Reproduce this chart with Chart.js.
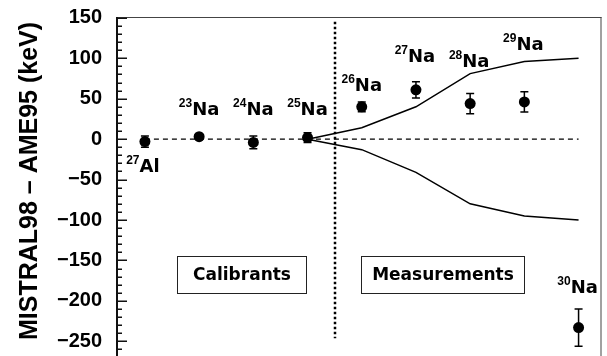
<!DOCTYPE html>
<html>
<head>
<meta charset="utf-8">
<script src="https://cdn.jsdelivr.net/npm/chart.js@4.4.0/dist/chart.umd.min.js"></script>
<style>
  html, body { margin: 0; padding: 0; background: #fff; overflow: hidden; }
  canvas { display: block; }
</style>
</head>
<body>
<canvas id="massChart" width="607" height="370"></canvas>
<script>
// Mass differences MISTRAL98 - AME95 (keV)
const massNumbers = ['27', '23', '24', '25', '26', '27', '28', '29', '30'];
const elements = ['Al', 'Na', 'Na', 'Na', 'Na', 'Na', 'Na', 'Na', 'Na'];
const xIndex = [0, 1, 2, 3, 4, 5, 6, 7, 8];
const deltas = [-3, 3, -4, 2, 40, 61, 44, 46, -233];
const errors = [7, 2, 8, 6, 6, 10, 12.5, 12.5, 23];

// AME95 uncertainty band
const bandX = [3, 4, 5, 6, 7, 8];
const bandUpper = [0, 14, 40, 81, 96, 100];
const bandLower = [0, -13, -41, -80, -95, -100];

const yTicks = [150, 100, 50, 0, -50, -100, -150, -200, -250];
const yMinor = [];
for (let v = -270; v <= 150; v += 10) if (v % 50 !== 0) yMinor.push(v);

// label placement, pixel offsets from each point
const labelDx = [-2, 0, 0, 0, 0, -1, -1, -1, -1];
const labelDy = [30, -22, -27, -23, -16, -28, -37, -52, -35];

const boxTexts = ['Calibrants', 'Measurements'];
const boxX = [[0.59, 2.98], [3.99, 7.0]];
const boxY = [-145, -190];
const dividerX = 3.5;

const decor = {
    id: 'decor',
    beforeDatasetsDraw(chart) {
        const { ctx, scales: { x, y } } = chart;
        ctx.save();
        // zero line
        ctx.strokeStyle = '#000';
        ctx.lineWidth = 1.3;
        ctx.setLineDash([5, 4]);
        ctx.beginPath();
        const y0 = y.getPixelForValue(0);
        ctx.moveTo(x.getPixelForValue(xIndex[0]), y0);
        ctx.lineTo(x.getPixelForValue(xIndex[xIndex.length - 1]), y0);
        ctx.stroke();

        // calibrants / measurements divider
        ctx.lineWidth = 2.5;
        ctx.setLineDash([2.5, 2.5]);
        ctx.beginPath();
        const dx = Math.round(x.getPixelForValue(dividerX));
        ctx.moveTo(dx, y.getPixelForValue(145));
        ctx.lineTo(dx, y.getPixelForValue(-246));
        ctx.stroke();
        ctx.setLineDash([]);

        // boxes
        ctx.lineWidth = 1;
        ctx.strokeStyle = '#222';
        ctx.fillStyle = '#000';
        ctx.font = 'bold 17px "DejaVu Sans"';
        ctx.textAlign = 'center';
        ctx.textBaseline = 'middle';
        boxTexts.forEach((t, i) => {
            const x0 = Math.round(x.getPixelForValue(boxX[i][0])) + 0.5;
            const x1 = Math.round(x.getPixelForValue(boxX[i][1])) + 0.5;
            const y0b = Math.round(y.getPixelForValue(boxY[0])) + 0.5;
            const y1b = Math.round(y.getPixelForValue(boxY[1])) + 0.5;
            ctx.strokeRect(x0, y0b, x1 - x0, y1b - y0b);
            ctx.fillText(t, (x0 + x1) / 2, (y0b + y1b) / 2 + 1);
        });
        ctx.restore();
    },
    afterDatasetsDraw(chart) {
        const { ctx, scales: { x, y } } = chart;
        ctx.save();
        // error bars
        ctx.strokeStyle = '#000';
        ctx.lineWidth = 1.5;
        ctx.beginPath();
        xIndex.forEach((xi, i) => {
            const px = x.getPixelForValue(xi);
            const top = y.getPixelForValue(deltas[i] + errors[i]);
            const bot = y.getPixelForValue(deltas[i] - errors[i]);
            ctx.moveTo(px, top); ctx.lineTo(px, bot);
            ctx.moveTo(px - 4, top); ctx.lineTo(px + 4, top);
            ctx.moveTo(px - 4, bot); ctx.lineTo(px + 4, bot);
        });
        ctx.stroke();

        // isotope labels
        ctx.fillStyle = '#000';
        ctx.textBaseline = 'alphabetic';
        ctx.textAlign = 'left';
        const mainFont = 'bold 18px "DejaVu Sans"';
        const supFont = 'bold 12px "Liberation Sans"';
        xIndex.forEach((xi, i) => {
            const px = x.getPixelForValue(xi) + labelDx[i];
            const base = y.getPixelForValue(deltas[i]) + labelDy[i];
            ctx.font = supFont;
            const ws = ctx.measureText(massNumbers[i]).width;
            ctx.font = mainFont;
            const wm = ctx.measureText(elements[i]).width;
            const start = px - (ws + wm) / 2;
            ctx.font = supFont;
            ctx.fillText(massNumbers[i], start, base - 8);
            ctx.font = mainFont;
            ctx.fillText(elements[i], start + ws, base);
        });
        ctx.restore();
    },
    afterDraw(chart) {
        const { ctx, chartArea: a, scales: { y } } = chart;
        ctx.save();
        // frame (top and right)
        ctx.fillStyle = '#444';
        ctx.fillRect(a.left, a.top, a.right - a.left, 1);
        ctx.fillRect(a.right - 1, a.top, 1, a.bottom - a.top);

        // left axis with inward ticks
        ctx.fillStyle = '#111';
        ctx.fillRect(a.left - 1, a.top, 2, a.bottom - a.top);
        for (const v of yTicks) {
            ctx.fillRect(a.left, Math.round(y.getPixelForValue(v)) - 0.5, 10, 1.5);
        }
        for (const v of yMinor) {
            ctx.fillRect(a.left, Math.round(y.getPixelForValue(v)) - 0.5, 5, 1.5);
        }

        // y title
        ctx.fillStyle = '#000';
        ctx.translate(37, 181);
        ctx.rotate(-Math.PI / 2);
        ctx.textAlign = 'center';
        ctx.textBaseline = 'alphabetic';
        ctx.font = 'bold 25px "Liberation Sans"';
        ctx.fillText('MISTRAL98 \u2013 AME95 (keV)', 0, 0);
        ctx.restore();
    }
};

new Chart(document.getElementById('massChart'), {
    type: 'scatter',
    data: {
        datasets: [
            {
                data: xIndex.map((xi, i) => ({ x: xi, y: deltas[i] })),
                pointRadius: 5.5,
                pointStyle: 'circle',
                backgroundColor: '#000',
                borderColor: '#000',
                borderWidth: 0
            },
            {
                type: 'line',
                data: bandX.map((xi, i) => ({ x: xi, y: bandUpper[i] })),
                borderColor: '#000',
                borderWidth: 1.5,
                pointRadius: 0,
                fill: false,
                tension: 0
            },
            {
                type: 'line',
                data: bandX.map((xi, i) => ({ x: xi, y: bandLower[i] })),
                borderColor: '#000',
                borderWidth: 1.5,
                pointRadius: 0,
                fill: false,
                tension: 0
            }
        ]
    },
    options: {
        responsive: false,
        animation: false,
        layout: { padding: { top: 17, right: 3, left: 0, bottom: 0 } },
        plugins: { legend: { display: false }, tooltip: { enabled: false } },
        scales: {
            x: { type: 'linear', min: -0.515, max: 8.423, display: false },
            y: {
                min: -278.6,
                max: 151,
                afterFit: s => { s.width = 117; s.paddingTop = 0; s.paddingBottom = 0; },
                afterBuildTicks: s => { s.ticks = yTicks.map(v => ({ value: v })); },
                grid: { display: false, drawTicks: false },
                border: { display: false },
                ticks: {
                    padding: 15,
                    color: '#000',
                    font: { family: 'Liberation Sans', size: 20, weight: 'bold' },
                    callback: v => (v < 0 ? '\u2212' + Math.abs(v) : String(v))
                }
            }
        }
    },
    plugins: [decor]
});
</script>
</body>
</html>
